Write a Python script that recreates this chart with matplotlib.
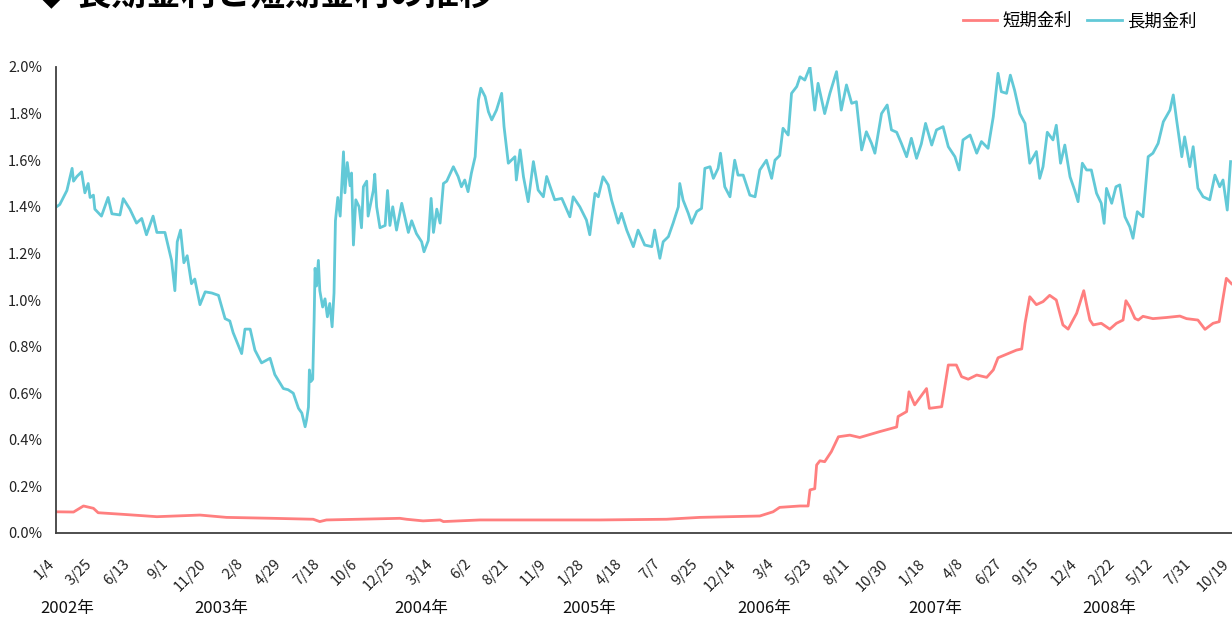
import pandas as pd
import matplotlib
matplotlib.use('Agg')
import matplotlib.pyplot as plt
import matplotlib.transforms as mtransforms

plt.rcParams['font.family'] = ['Noto Sans CJK JP', 'DejaVu Sans']

# 起点日からの経過日数と金利(%)
start = pd.Timestamp('2002-01-04')

long_days = [1, 8, 23, 34, 37, 44, 54, 61, 68, 72, 79, 82, 96, 110, 118, 135, 142, 156, 170, 181,
             191, 205, 213, 230, 237, 244, 251, 256, 263, 270, 277, 286, 293, 304, 315, 329, 343, 357, 367, 374,
             392, 399, 410, 420, 434, 452, 462, 480, 490, 501, 512, 519, 526, 529, 533, 535, 538, 542, 545, 547,
             550, 554, 557, 563, 568, 573, 578, 583, 587, 590, 595, 600, 607, 610, 615, 621, 624, 628, 633, 640,
             645, 649, 656, 659, 670, 673, 677, 684, 695, 700, 705, 711, 719, 730, 744, 751, 761, 772, 777, 786,
             792, 797, 804, 811, 818, 825, 839, 849, 856, 863, 870, 877, 885, 892, 897, 906, 913, 920, 930, 941,
             946, 955, 969, 972, 980, 987, 997, 1008, 1018, 1029, 1036, 1053, 1068, 1085, 1092, 1106, 1120, 1127, 1138, 1145,
             1155, 1166, 1173, 1187, 1194, 1205, 1219, 1229, 1243, 1258, 1264, 1275, 1282, 1293, 1303, 1314, 1317, 1324, 1335, 1342,
             1353, 1363, 1370, 1381, 1388, 1398, 1403, 1412, 1423, 1433, 1440, 1451, 1465, 1476, 1486, 1500, 1511, 1518, 1528, 1535,
             1546, 1553, 1564, 1571, 1581, 1592, 1602, 1609, 1623, 1634, 1648, 1658, 1669, 1680, 1690, 1701, 1711, 1722, 1729, 1743,
             1755, 1764, 1775, 1785, 1796, 1806, 1817, 1827, 1836, 1849, 1859, 1873, 1884, 1898, 1907, 1915, 1930, 1944, 1954, 1968,
             1979, 1989, 1996, 2007, 2015, 2024, 2035, 2046, 2056, 2070, 2077, 2084, 2093, 2105, 2112, 2121, 2130, 2141, 2151, 2158,
             2167, 2176, 2186, 2197, 2207, 2213, 2218, 2229, 2238, 2246, 2257, 2267, 2274, 2283, 2295, 2306, 2316, 2327, 2338, 2352,
             2359, 2366, 2377, 2383, 2394, 2401, 2411, 2422, 2436, 2447, 2457, 2464, 2473, 2480]
long_rate = [1.40, 1.41, 1.47, 1.565, 1.51, 1.53, 1.55, 1.46, 1.50, 1.44, 1.45, 1.39, 1.36, 1.44, 1.37, 1.365, 1.435, 1.39, 1.33, 1.35,
             1.28, 1.36, 1.29, 1.29, 1.23, 1.17, 1.04, 1.25, 1.30, 1.16, 1.19, 1.07, 1.09, 0.98, 1.035, 1.03, 1.02, 0.92, 0.91, 0.86,
             0.77, 0.875, 0.875, 0.785, 0.73, 0.75, 0.68, 0.62, 0.615, 0.60, 0.535, 0.515, 0.456, 0.485, 0.54, 0.70, 0.65, 0.66, 0.914, 1.136,
             1.06, 1.17, 1.04, 0.97, 1.005, 0.928, 0.985, 0.885, 1.03, 1.34, 1.44, 1.36, 1.636, 1.46, 1.59, 1.49, 1.545, 1.236, 1.43, 1.40,
             1.31, 1.486, 1.51, 1.36, 1.47, 1.54, 1.40, 1.31, 1.32, 1.47, 1.32, 1.40, 1.30, 1.415, 1.29, 1.34, 1.285, 1.25, 1.207, 1.255,
             1.436, 1.29, 1.39, 1.33, 1.50, 1.51, 1.572, 1.53, 1.486, 1.515, 1.465, 1.544, 1.615, 1.86, 1.909, 1.873, 1.808, 1.773, 1.815, 1.887,
             1.744, 1.587, 1.615, 1.515, 1.644, 1.529, 1.422, 1.594, 1.472, 1.443, 1.53, 1.43, 1.436, 1.357, 1.443, 1.40, 1.343, 1.28, 1.458, 1.443,
             1.529, 1.494, 1.429, 1.33, 1.372, 1.30, 1.229, 1.30, 1.236, 1.229, 1.30, 1.179, 1.25, 1.272, 1.33, 1.40, 1.50, 1.429, 1.372, 1.329,
             1.38, 1.393, 1.565, 1.572, 1.522, 1.565, 1.63, 1.486, 1.443, 1.60, 1.536, 1.536, 1.45, 1.443, 1.558, 1.60, 1.522, 1.60, 1.62, 1.737,
             1.708, 1.887, 1.916, 1.958, 1.944, 2.00, 1.815, 1.93, 1.80, 1.887, 1.98, 1.815, 1.923, 1.844, 1.851, 1.644, 1.722, 1.672, 1.63, 1.80,
             1.837, 1.73, 1.72, 1.672, 1.615, 1.694, 1.608, 1.67, 1.758, 1.665, 1.73, 1.744, 1.658, 1.615, 1.558, 1.687, 1.708, 1.63, 1.68, 1.651,
             1.787, 1.973, 1.894, 1.887, 1.965, 1.90, 1.80, 1.758, 1.587, 1.637, 1.522, 1.572, 1.72, 1.687, 1.75, 1.587, 1.665, 1.529, 1.47, 1.422,
             1.587, 1.558, 1.558, 1.458, 1.415, 1.329, 1.479, 1.415, 1.486, 1.494, 1.357, 1.315, 1.265, 1.379, 1.357, 1.615, 1.63, 1.672, 1.765, 1.815,
             1.88, 1.773, 1.615, 1.70, 1.572, 1.658, 1.48, 1.443, 1.43, 1.536, 1.486, 1.515, 1.386, 1.594]

short_days = [1, 37, 58, 79, 89, 142, 213, 304, 360, 459, 543, 557, 571, 726, 740, 775, 811, 818, 895, 1148,
              1289, 1359, 1486, 1514, 1528, 1571, 1588, 1592, 1602, 1606, 1613, 1623, 1637, 1652, 1676, 1697, 1739, 1775, 1778, 1796,
              1801, 1813, 1838, 1844, 1870, 1884, 1901, 1912, 1926, 1944, 1965, 1979, 1989, 2028, 2039, 2046, 2056, 2070, 2084, 2098,
              2112, 2126, 2137, 2155, 2170, 2176, 2183, 2190, 2207, 2225, 2239, 2253, 2259, 2267, 2278, 2285, 2295, 2316, 2345, 2373,
              2387, 2411, 2426, 2443, 2456, 2461, 2471, 2482]
short_rate = [0.091, 0.09, 0.116, 0.106, 0.087, 0.08, 0.07, 0.077, 0.067, 0.063, 0.059, 0.049, 0.056, 0.063, 0.059, 0.052, 0.056, 0.049, 0.056, 0.056,
              0.059, 0.067, 0.073, 0.091, 0.11, 0.116, 0.116, 0.185, 0.19, 0.292, 0.31, 0.306, 0.349, 0.413, 0.42, 0.41, 0.435, 0.455, 0.50, 0.521,
              0.606, 0.55, 0.62, 0.535, 0.542, 0.721, 0.721, 0.671, 0.66, 0.678, 0.668, 0.70, 0.752, 0.785, 0.79, 0.90, 1.014, 0.98, 0.993, 1.02,
              1.0, 0.893, 0.875, 0.943, 1.04, 0.98, 0.914, 0.893, 0.90, 0.875, 0.90, 0.914, 0.997, 0.971, 0.921, 0.914, 0.93, 0.92, 0.925, 0.931,
              0.92, 0.914, 0.874, 0.90, 0.907, 0.97, 1.093, 1.07]

year_labels = ['2002年', '2003年', '2004年', '2005年', '2006年', '2007年', '2008年']
year_pos = [23, 348, 771, 1125, 1495, 1856, 2223]

long_dates = start + pd.to_timedelta(long_days, unit='D')
short_dates = start + pd.to_timedelta(short_days, unit='D')

fig = plt.figure(figsize=(12.32, 6.19), dpi=100)
ax = fig.add_axes([56 / 1232, 1 - 533 / 619, 1 - 56 / 1232, 466 / 619])

ax.plot(short_dates, short_rate, color='#FF7F7F', lw=2, label='短期金利')
ax.plot(long_dates, long_rate, color='#62C9D7', lw=2, label='長期金利')

ax.set_ylim(0, 2.0)
ax.set_yticks([i * 0.2 for i in range(11)])
ax.set_yticklabels([f'{i * 0.2:.1f}%' for i in range(11)], fontsize=10.5)
ax.set_xlim(start, start + pd.Timedelta(days=2483))

ticks = pd.date_range(start, periods=32, freq='80D')
ax.set_xticks(ticks)
ax.set_xticklabels([f'{t.month}/{t.day}' for t in ticks], rotation=45, ha='right',
                   rotation_mode='anchor', fontsize=10.5)
ax.tick_params(axis='both', length=0, colors='#222222')
ax.tick_params(axis='x', pad=17)
ax.tick_params(axis='y', pad=10)
shift = mtransforms.ScaledTranslation(-9 / 100, 0, fig.dpi_scale_trans)
for lbl in ax.get_xticklabels():
    lbl.set_transform(lbl.get_transform() + shift)

for s in ['top', 'right']:
    ax.spines[s].set_visible(False)
for s in ['left', 'bottom']:
    ax.spines[s].set_color('#404040')
    ax.spines[s].set_linewidth(1.3)

for lab, d in zip(year_labels, year_pos):
    ax.text(start + pd.Timedelta(days=d), -0.163, lab, transform=ax.get_xaxis_transform(),
            ha='center', va='center', fontsize=12, color='#111111')

fig.text(0.028, 1 - 4 / 619, '◆ 長期金利と短期金利の推移', fontsize=25, fontweight='bold',
         va='baseline', ha='left')

fig.legend(loc='center right', bbox_to_anchor=(1212 / 1232, 1 - 21 / 619), ncol=2, frameon=False,
           fontsize=12.5, handlelength=2.0, columnspacing=0.85, handletextpad=0.3)

fig.savefig('out.png', dpi=100)
